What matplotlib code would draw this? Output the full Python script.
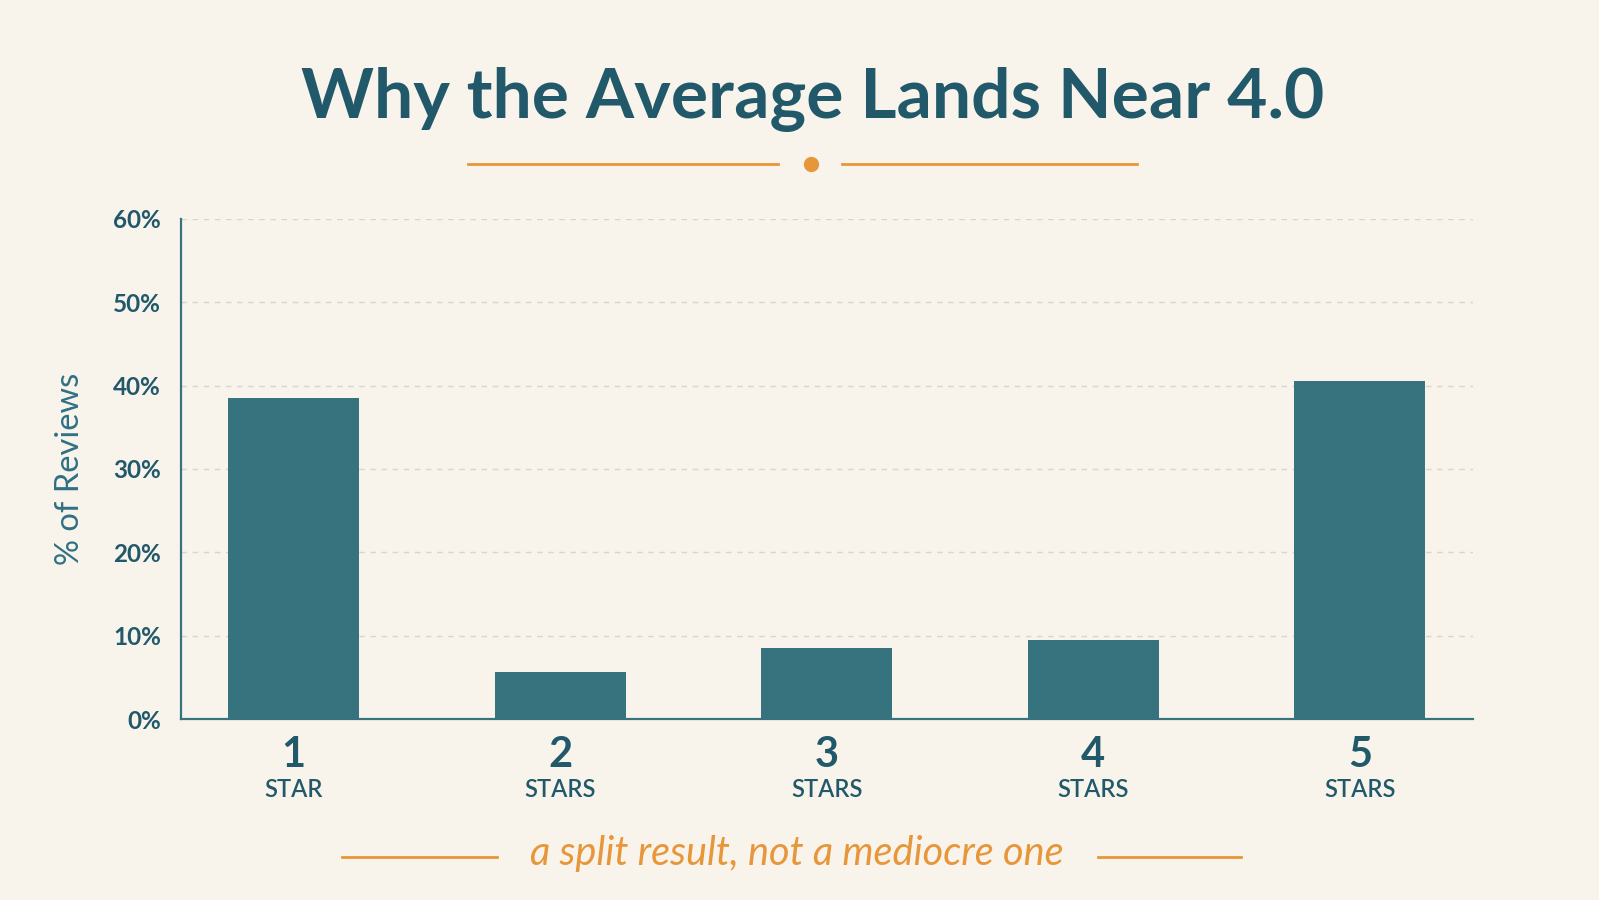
import numpy as np
import matplotlib
matplotlib.use('Agg')
import matplotlib.pyplot as plt
from matplotlib.lines import Line2D

# data
stars = [1, 2, 3, 4, 5]
star_nums = ['1', '2', '3', '4', '5']
star_words = ['STAR', 'STARS', 'STARS', 'STARS', 'STARS']
pct_reviews = [38.5, 5.7, 8.5, 9.5, 40.5]
y_ticks = [0, 10, 20, 30, 40, 50, 60]
y_ticklabels = ['0%', '10%', '20%', '30%', '40%', '50%', '60%']

bg = '#f8f4ec'
teal = '#37727f'
dark = '#21596a'
orange = '#e8963a'

plt.rcParams['font.family'] = ['Lato', 'DejaVu Sans']

fig = plt.figure(figsize=(15.99, 9.0), dpi=100, facecolor=bg)
ax = fig.add_axes([0.1129, 0.2011, 0.9212 - 0.1129, 0.7567 - 0.2011])
ax.set_facecolor(bg)

ax.bar(stars, pct_reviews, width=0.49, color=teal, zorder=3)

ax.set_xlim(0.575, 5.425)
ax.set_ylim(0, 60)
ax.set_yticks(y_ticks)
ax.set_yticklabels(y_ticklabels, fontsize=17.5, fontweight='bold', color=dark)
ax.tick_params(axis='y', length=0, pad=14)
ax.set_xticks([])

for t in y_ticks[1:]:
    ax.axhline(t, color='#d9d5cc', lw=1.0, ls=(0, (4, 4)), zorder=1)

for s in ['top', 'right']:
    ax.spines[s].set_visible(False)
ax.spines['left'].set_color(teal)
ax.spines['bottom'].set_color(teal)
ax.spines['left'].set_linewidth(1.6)
ax.spines['bottom'].set_linewidth(1.6)

ax.set_ylabel('% of Reviews', fontsize=23.5, color='#2f7083', labelpad=20)

# category labels under the bars
for x, n, w in zip(stars, star_nums, star_words):
    ax.text(x, -4.3, n, ha='center', va='center', fontsize=30, fontweight='bold',
            color=dark, transform=ax.transData, clip_on=False)
    ax.text(x, -8.4, w, ha='center', va='center', fontsize=17, fontweight='semibold',
            color=dark, transform=ax.transData, clip_on=False)

# title and decoration
fig.text(0.508, 0.890, 'Why the Average Lands Near 4.0', ha='center', va='center',
         fontsize=50, fontweight='bold', color=dark)
fig.add_artist(Line2D([468 / 1599, 778 / 1599], [1 - 164 / 900] * 2, color=orange, lw=2))
fig.add_artist(Line2D([842 / 1599, 1137 / 1599], [1 - 164 / 900] * 2, color=orange, lw=2))
fig.add_artist(Line2D([811 / 1599], [1 - 164 / 900], marker='o', ms=10, color=orange, lw=0))

# bottom caption
fig.text(797 / 1599, 1 - 853 / 900, 'a split result, not a mediocre one', ha='center', va='center',
         fontsize=28.5, style='italic', color=orange)
fig.add_artist(Line2D([342 / 1599, 497 / 1599], [1 - 857 / 900] * 2, color=orange, lw=2))
fig.add_artist(Line2D([1098 / 1599, 1241 / 1599], [1 - 857 / 900] * 2, color=orange, lw=2))

fig.savefig('out.png', dpi=100, facecolor=bg)
